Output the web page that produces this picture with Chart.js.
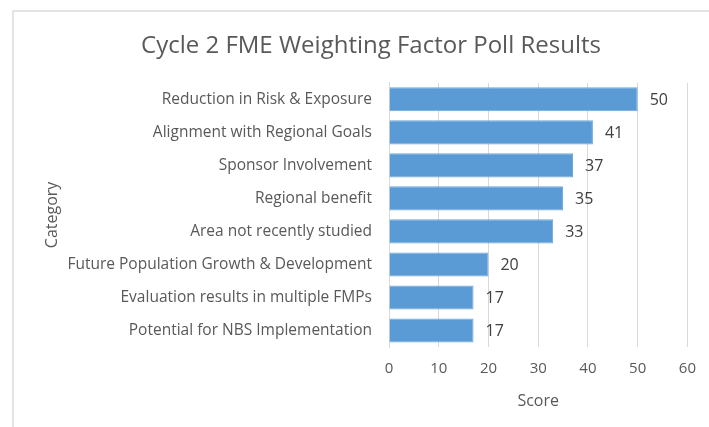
<!DOCTYPE html>
<html>
<head>
<meta charset="utf-8">
<script src="https://cdn.jsdelivr.net/npm/chart.js@4"></script>
<style>
    html, body { margin: 0; padding: 0; background: #fff; overflow: hidden; }
    #wrap { position: relative; width: 709px; height: 427px; }
    #frame {
        position: absolute; left: 12px; top: 10px; width: 720px; height: 440px;
        border: 2px solid #e4e4e4;
    }
    #box { position: absolute; left: 0; top: 0; width: 709px; height: 427px; }
</style>
</head>
<body>
<div id="wrap">
    <div id="frame"></div>
    <div id="box"><canvas id="chart-poll"></canvas></div>
</div>
<script>
const chartTitle = "Cycle 2 FME Weighting Factor Poll Results"
const categories = [
    "Reduction in Risk & Exposure",
    "Alignment with Regional Goals",
    "Sponsor Involvement",
    "Regional benefit",
    "Area not recently studied",
    "Future Population Growth & Development",
    "Evaluation results in multiple FMPs",
    "Potential for NBS Implementation"
]
const scores = [50, 41, 37, 35, 33, 20, 17, 17]
const scoreTicks = [0, 10, 20, 30, 40, 50, 60]

const textColor = "#595959"
const fontFamily = "'Open Sans', 'Noto Sans', sans-serif"

// value labels drawn just past the end of each bar
const barLabels = {
    id: "barLabels",
    afterDatasetsDraw(chart) {
        const ctx = chart.ctx
        const meta = chart.getDatasetMeta(0)
        ctx.save()
        ctx.font = "16px " + fontFamily
        ctx.fillStyle = "#404040"
        ctx.textAlign = "left"
        ctx.textBaseline = "middle"
        meta.data.forEach((bar, i) => {
            ctx.fillText(String(scores[i]), bar.x + 12, bar.y + 1)
        })
        ctx.restore()
    }
}

const ctx = document.getElementById("chart-poll").getContext("2d")
const pollChart = new Chart(ctx, {
    type: "bar",
    data: {
        labels: categories,
        datasets: [{
            label: "Score",
            data: scores,
            backgroundColor: "#5b9bd5",
            borderColor: "#6fa8dc",
            borderWidth: 1,
            categoryPercentage: 1,
            barPercentage: 0.73
        }]
    },
    plugins: [barLabels],
    options: {
        indexAxis: "y",
        responsive: true,
        maintainAspectRatio: false,
        animation: false,
        // left padding shifts the title centre to where it sits in the picture
        layout: { padding: { left: 53, right: 20, top: 0, bottom: 0 } },
        plugins: {
            legend: { display: false },
            tooltip: { enabled: false },
            title: {
                display: true,
                text: chartTitle,
                color: textColor,
                font: { family: fontFamily, size: 24, weight: "normal" },
                padding: { top: 32, bottom: 22 }
            }
        },
        scales: {
            x: {
                min: 0,
                max: 60,
                afterBuildTicks: (scale) => {
                    scale.ticks = scoreTicks.map((v) => ({ value: v }))
                },
                afterFit: (scale) => { scale.height = 80 },
                grid: { color: "#d9d9d9", drawTicks: false },
                border: { display: false },
                ticks: {
                    color: textColor,
                    padding: 13,
                    font: { family: fontFamily, size: 15 }
                },
                title: {
                    display: true,
                    text: "Score",
                    color: textColor,
                    font: { family: fontFamily, size: 16 },
                    padding: { top: 0, bottom: 16 }
                }
            },
            y: {
                afterFit: (scale) => { scale.width = 336 },
                grid: { display: false, drawTicks: false },
                border: { display: true, color: "#d9d9d9" },
                ticks: {
                    color: textColor,
                    padding: 17,
                    font: { family: fontFamily, size: 15.5 }
                },
                title: {
                    display: true,
                    text: "Category",
                    color: textColor,
                    font: { family: fontFamily, size: 16 },
                    padding: { top: -10, bottom: 0 }
                }
            }
        }
    }
})
</script>
</body>
</html>
